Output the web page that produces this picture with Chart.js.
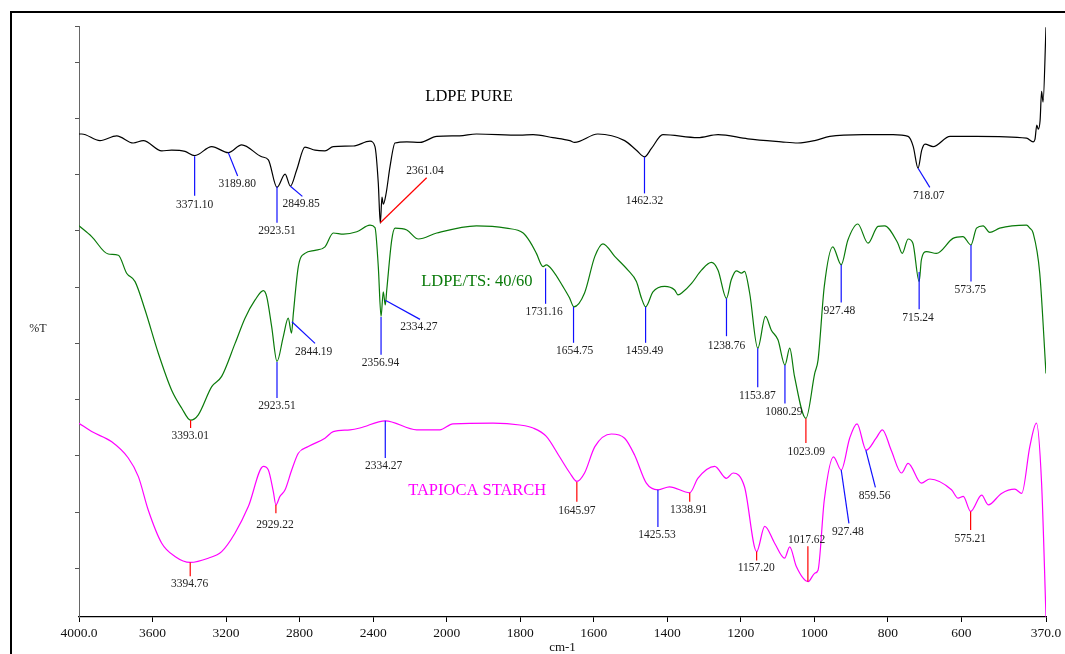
<!DOCTYPE html>
<html>
<head>
<meta charset="utf-8">
<title>FTIR spectra</title>
<script src="https://cdn.jsdelivr.net/npm/chart.js@4.4.1/dist/chart.umd.min.js"></script>
<style>
  html, body { margin: 0; padding: 0; background: #fff; overflow: hidden; }
  #wrap { position: relative; width: 1065px; height: 654px; }
  #frame { position: absolute; left: 10px; top: 11px; right: -10px; bottom: -10px;
           border-left: 2px solid #000; border-top: 2px solid #000; }
  canvas { position: absolute; left: 0; top: 0; }
</style>
</head>
<body>
<div id="wrap">
  <div id="frame"></div>
  <canvas id="ftir" width="1065" height="654"></canvas>
</div>
<script>
// x tick values and their printed labels
const xTicks = [4000, 3600, 3200, 2800, 2400, 2000, 1800, 1600, 1400, 1200, 1000, 800, 600, 370];
const xTickLabels = ['4000.0', '3600', '3200', '2800', '2400', '2000', '1800', '1600', '1400', '1200', '1000', '800', '600', '370.0'];

const seriesNames = ['LDPE PURE', 'LDPE/TS: 40/60', 'TAPIOCA STARCH'];
// where each name sits (cm-1, %T)
const nameWn = [1939, 1918, 1917];
const nameT = [87.3, 56.4, 21.6];

// LDPE pure
const ldpeWn = [4000, 3985, 3886, 3795, 3705, 3650, 3550, 3496, 3423, 3371, 3278, 3188, 3115, 3006, 2970,
  2923, 2879, 2850, 2816, 2771, 2716, 2662, 2617, 2508, 2417, 2390, 2372, 2361, 2352, 2345, 2330, 2308,
  2281, 2217, 2145, 2054, 1965, 1919, 1801, 1765, 1711, 1665, 1652, 1589, 1516, 1484, 1462, 1443, 1412,
  1317, 1262, 1181, 1090, 1045, 999, 958, 867, 786, 745, 731, 718, 708, 699, 677, 631, 559, 423, 405,
  400, 395, 391, 386, 382, 378, 370];
const ldpeT = [81.0, 81.0, 79.9, 80.7, 79.5, 79.9, 78.2, 78.3, 78.1, 77.4, 78.9, 77.9, 79.2, 77.2, 76.7,
  72.1, 74.3, 72.3, 75.0, 78.8, 78.3, 78.2, 78.9, 79.0, 79.8, 78.9, 72.8, 66.1, 70.5, 69.3, 71.0, 75.6,
  79.5, 79.7, 79.6, 80.6, 80.7, 81.0, 80.8, 80.9, 80.4, 79.9, 79.6, 81.0, 79.9, 78.3, 77.2, 78.6, 80.9,
  80.4, 80.9, 80.2, 79.7, 79.5, 79.9, 80.6, 80.9, 80.9, 80.6, 78.9, 75.3, 78.3, 79.3, 78.9, 80.6, 80.6, 80.3, 79.7,
  80.1, 82.5, 81.8, 83.3, 88.1, 86.3, 98.8];

// LDPE / tapioca starch 40/60
const blendWn = [4000, 3931, 3841, 3786, 3741, 3695, 3641, 3569, 3496, 3441, 3393, 3351, 3278, 3224, 3151,
  3097, 3043, 2997, 2979, 2952, 2923, 2889, 2862, 2844, 2834, 2807, 2771, 2716, 2662, 2617, 2562, 2489,
  2417, 2390, 2372, 2357, 2345, 2334, 2326, 2299, 2281, 2217, 2154, 2054, 1919, 1838, 1792, 1774, 1756,
  1738, 1729, 1711, 1684, 1666, 1654, 1625, 1597, 1575, 1543, 1507, 1484, 1470, 1459, 1439, 1407, 1380,
  1371, 1357, 1334, 1307, 1280, 1262, 1239, 1226, 1212, 1198, 1190, 1176, 1154, 1133, 1117, 1099, 1080,
  1067, 1054, 1023, 999, 990, 973, 950, 927, 909, 882, 854, 827, 809, 773, 761, 745, 732, 715, 709, 695,
  668, 623, 596, 574, 559, 541, 523, 496, 423, 414, 405, 387, 370];
const blendT = [65.7, 63.9, 61.0, 60.8, 57.8, 56.4, 51.7, 44.5, 38.3, 35.3, 33.3, 34.2, 38.9, 40.6, 46.1,
  50.3, 53.3, 54.9, 53.9, 48.9, 43.1, 47.2, 50.3, 47.8, 51.1, 58.9, 61.1, 61.6, 62.2, 64.5, 64.3, 64.7,
  65.8, 65.4, 58.9, 50.6, 54.7, 52.5, 55.0, 63.3, 65.3, 65.0, 63.5, 64.5, 65.7, 65.3, 64.5, 63.1, 61.1,
  58.9, 59.2, 58.2, 55.6, 53.7, 52.2, 54.5, 60.6, 62.7, 60.6, 58.3, 56.4, 53.6, 52.2, 54.7, 55.6, 55.0,
  54.2, 54.7, 56.1, 58.3, 59.6, 58.3, 53.6, 56.7, 58.2, 57.8, 58.1, 54.5, 45.3, 50.6, 48.3, 46.7, 42.5,
  45.3, 40.6, 33.6, 41.1, 43.3, 55.6, 62.2, 59.2, 63.3, 66.0, 62.8, 65.6, 65.7, 62.8, 61.1, 63.5, 62.8, 56.4, 60.0, 61.4,
  61.1, 63.6, 63.9, 62.5, 65.3, 65.7, 64.6, 65.3, 65.8, 65.3, 64.5, 57.8, 41.1];

// tapioca starch
const starchWn = [4000, 3931, 3822, 3732, 3677, 3623, 3550, 3478, 3395, 3297, 3224, 3151, 3079, 2997, 2970,
  2943, 2929, 2907, 2879, 2843, 2807, 2753, 2662, 2617, 2526, 2472, 2334, 2163, 2037, 1983, 1874, 1801,
  1765, 1729, 1693, 1665, 1646, 1625, 1597, 1552, 1516, 1489, 1457, 1425, 1394, 1339, 1317, 1271, 1239,
  1221, 1190, 1157, 1135, 1108, 1081, 1067, 1049, 1017, 999, 990, 973, 948, 927, 904, 884, 859, 832, 815,
  791, 763, 745, 709, 686, 627, 609, 595, 575, 545, 527, 491, 455, 436, 414, 396, 382, 370];
const starchT = [32.8, 31.4, 29.7, 27.0, 23.9, 18.3, 12.8, 10.6, 9.6, 10.3, 11.4, 14.5, 18.9, 25.6, 25.0,
  21.4, 19.2, 20.6, 21.7, 25.0, 27.8, 28.9, 30.3, 31.4, 31.7, 32.0, 33.2, 31.7, 31.7, 32.7, 32.8, 32.5,
  32.0, 30.6, 27.2, 24.5, 23.1, 24.5, 28.9, 31.0, 30.3, 27.5, 22.8, 21.7, 22.2, 21.2, 23.6, 25.6, 23.6,
  24.5, 22.2, 11.4, 15.6, 12.8, 10.3, 12.2, 8.9, 6.4, 7.8, 8.3, 20.0, 27.2, 25.0, 30.3, 32.7, 28.3, 30.3, 31.7,
  28.3, 24.5, 26.1, 22.8, 23.5, 21.7, 20.3, 20.6, 18.1, 20.8, 19.2, 21.1, 21.8, 21.1, 28.9, 32.8, 22.8, 0.5];

// peak marks: [label, tip cm-1, tip %T, end cm-1, end %T, text cm-1, text %T]
const ldpePeaks = [
  ['3371.10', 3371, 77.3, 3371, 70.7, 3371, 69.2],
  ['3189.80', 3188, 77.9, 3137, 74.0, 3139, 72.7],
  ['2923.51', 2923, 72.2, 2923, 66.2, 2923, 64.9],
  ['2849.85', 2850, 72.3, 2785, 70.6, 2792, 69.3],
  ['2361.04', 2361, 66.2, 2109, 73.7, 2118, 74.8],
  ['1462.32', 1462, 77.2, 1462, 71.1, 1462, 69.8],
  ['718.07', 718, 75.3, 686, 72.1, 689, 70.7]
];
const blendPeaks = [
  ['3393.01', 3393, 33.3, 3393, 32.0, 3395, 30.7],
  ['2923.51', 2923, 43.0, 2923, 37.0, 2923, 35.7],
  ['2844.19', 2842, 49.7, 2716, 46.1, 2724, 44.7],
  ['2356.94', 2357, 50.5, 2357, 44.2, 2360, 42.8],
  ['2334.27', 2334, 53.3, 2145, 50.1, 2151, 48.8],
  ['1731.16', 1731, 58.6, 1731, 52.7, 1735, 51.3],
  ['1654.75', 1655, 52.2, 1655, 46.2, 1652, 44.8],
  ['1459.49', 1459, 52.2, 1459, 46.2, 1462, 44.9],
  ['1238.76', 1239, 53.6, 1239, 47.3, 1239, 45.7],
  ['1153.87', 1154, 45.3, 1154, 38.8, 1155, 37.3],
  ['1080.29', 1080, 42.5, 1080, 36.1, 1083, 34.7],
  ['1023.09', 1023, 33.6, 1023, 29.5, 1022, 28.0],
  ['927.48', 927, 59.2, 927, 52.9, 932, 51.5],
  ['715.24', 715, 58.0, 715, 51.8, 718, 50.4],
  ['573.75', 574, 62.5, 574, 56.4, 576, 55.0]
];
const starchPeaks = [
  ['3394.76', 3395, 9.6, 3395, 7.3, 3398, 6.0],
  ['2929.22', 2929, 19.2, 2929, 17.8, 2934, 15.8],
  ['2334.27', 2334, 33.2, 2334, 27.0, 2343, 25.7],
  ['1645.97', 1646, 23.0, 1646, 19.7, 1646, 18.2],
  ['1425.53', 1425.5, 21.7, 1425.5, 15.5, 1428, 14.2],
  ['1338.91', 1339, 21.2, 1339, 19.7, 1342, 18.4],
  ['1157.20', 1157, 11.4, 1157, 9.9, 1158, 8.7],
  ['1017.62', 1017.6, 6.4, 1017.6, 12.3, 1021, 13.4],
  ['927.48', 927, 25.0, 906, 16.1, 909, 14.6],
  ['859.56', 860, 28.3, 834, 22.1, 836, 20.7],
  ['575.21', 575, 18.1, 575, 15.0, 576, 13.5]
];
// peaks whose leader is drawn in red (the rest are blue)
const redLeaders = [['2361.04'], ['3393.01', '1023.09'],
  ['3394.76', '2929.22', '1645.97', '1338.91', '1157.20', '1017.62', '575.21']];

const seriesColors = ['#000000', '#0a7a0a', '#ff00ff'];
const serif = '"Liberation Serif", "Times New Roman", serif';

// the instrument's x axis is compressed 2:1 above 2000 cm-1
const SCALE_BREAK = 2000;
const fold = v => v > SCALE_BREAK ? SCALE_BREAK + (v - SCALE_BREAK) / 2 : v;
const unfold = u => u > SCALE_BREAK ? SCALE_BREAK + (u - SCALE_BREAK) * 2 : u;

class WavenumberScale extends Chart.LinearScale {
  static id = 'wavenumber';
  static defaults = Chart.LinearScale.defaults;
  getPixelForValue(value) {
    if (value === null || value === undefined || isNaN(value)) return NaN;
    const lo = fold(this.min), hi = fold(this.max);
    return this.getPixelForDecimal((fold(value) - lo) / (hi - lo));
  }
  getValueForPixel(pixel) {
    const lo = fold(this.min), hi = fold(this.max);
    return unfold(lo + this.getDecimalForPixel(pixel) * (hi - lo));
  }
}
Chart.register(WavenumberScale);

const toPoints = (wn, t) => wn.map((x, i) => ({ x: x, y: t[i] }));

const spectrumDecor = {
  id: 'spectrumDecor',
  afterDatasetsDraw(chart) {
    const ctx = chart.ctx;
    const xs = chart.scales.x, ys = chart.scales.y;
    const px = v => xs.getPixelForValue(v), py = v => ys.getPixelForValue(v);
    ctx.save();
    ctx.textAlign = 'center';
    ctx.textBaseline = 'middle';

    [ldpePeaks, blendPeaks, starchPeaks].forEach((peaks, s) => {
      peaks.forEach(p => {
        ctx.strokeStyle = redLeaders[s].includes(p[0]) ? '#ff0000' : '#1010ff';
        ctx.lineWidth = 1.2;
        ctx.beginPath();
        ctx.moveTo(px(p[1]), py(p[2]));
        ctx.lineTo(px(p[3]), py(p[4]));
        ctx.stroke();
        ctx.fillStyle = '#222';
        ctx.font = '11.5px ' + serif;
        ctx.fillText(p[0], px(p[5]), py(p[6]));
      });
    });

    seriesNames.forEach((name, i) => {
      ctx.fillStyle = seriesColors[i];
      ctx.font = '16.5px ' + serif;
      ctx.fillText(name, px(nameWn[i]), py(nameT[i]));
    });

    ctx.fillStyle = '#222';
    ctx.font = '12px ' + serif;
    ctx.fillText('%T', chart.chartArea.left - 41, py(48.5));
    ctx.restore();
  }
};

const yTickMarks = [];
for (let k = 0; k < 10; k++) yTickMarks.push(8.62 + 9.375 * k);
yTickMarks.push(99);

const ctx = document.getElementById('ftir').getContext('2d');
const ftirChart = new Chart(ctx, {
  type: 'line',
  data: {
    datasets: [
      { label: seriesNames[0], data: toPoints(ldpeWn, ldpeT), borderColor: seriesColors[0] },
      { label: seriesNames[1], data: toPoints(blendWn, blendT), borderColor: seriesColors[1] },
      { label: seriesNames[2], data: toPoints(starchWn, starchT), borderColor: seriesColors[2] }
    ]
  },
  options: {
    responsive: false,
    animation: false,
    devicePixelRatio: 1,
    layout: { padding: { left: 75, right: 19, top: 26, bottom: 0 } },
    elements: {
      point: { radius: 0 },
      line: { borderWidth: 1.2, cubicInterpolationMode: 'monotone', fill: false }
    },
    scales: {
      x: {
        type: 'wavenumber',
        reverse: true,
        min: 370,
        max: 4000,
        afterBuildTicks: s => { s.ticks = xTicks.map(v => ({ value: v })); },
        afterFit: s => { s.height = 37; },
        ticks: {
          autoSkip: false,
          maxRotation: 0,
          padding: 3,
          color: '#111',
          font: { family: serif, size: 13.5 },
          callback: (v, i) => xTickLabels[i]
        },
        grid: { drawOnChartArea: false, drawTicks: true, tickLength: 5, color: '#000' },
        border: { display: true, color: '#000', width: 1.3 },
        title: {
          display: true,
          text: 'cm-1',
          color: '#111',
          padding: { top: 0, bottom: 0 },
          font: { family: serif, size: 13, lineHeight: 1.0 }
        }
      },
      y: {
        min: 0.5,
        max: 99,
        afterBuildTicks: s => { s.ticks = yTickMarks.map(v => ({ value: v })); },
        afterFit: s => { s.width = 4; },
        ticks: { display: false },
        grid: { drawOnChartArea: false, drawTicks: true, tickLength: 4, color: '#555' },
        border: { display: true, color: '#666', width: 1 }
      }
    },
    plugins: {
      legend: { display: false },
      tooltip: { enabled: false }
    }
  },
  plugins: [spectrumDecor]
});
</script>
</body>
</html>
